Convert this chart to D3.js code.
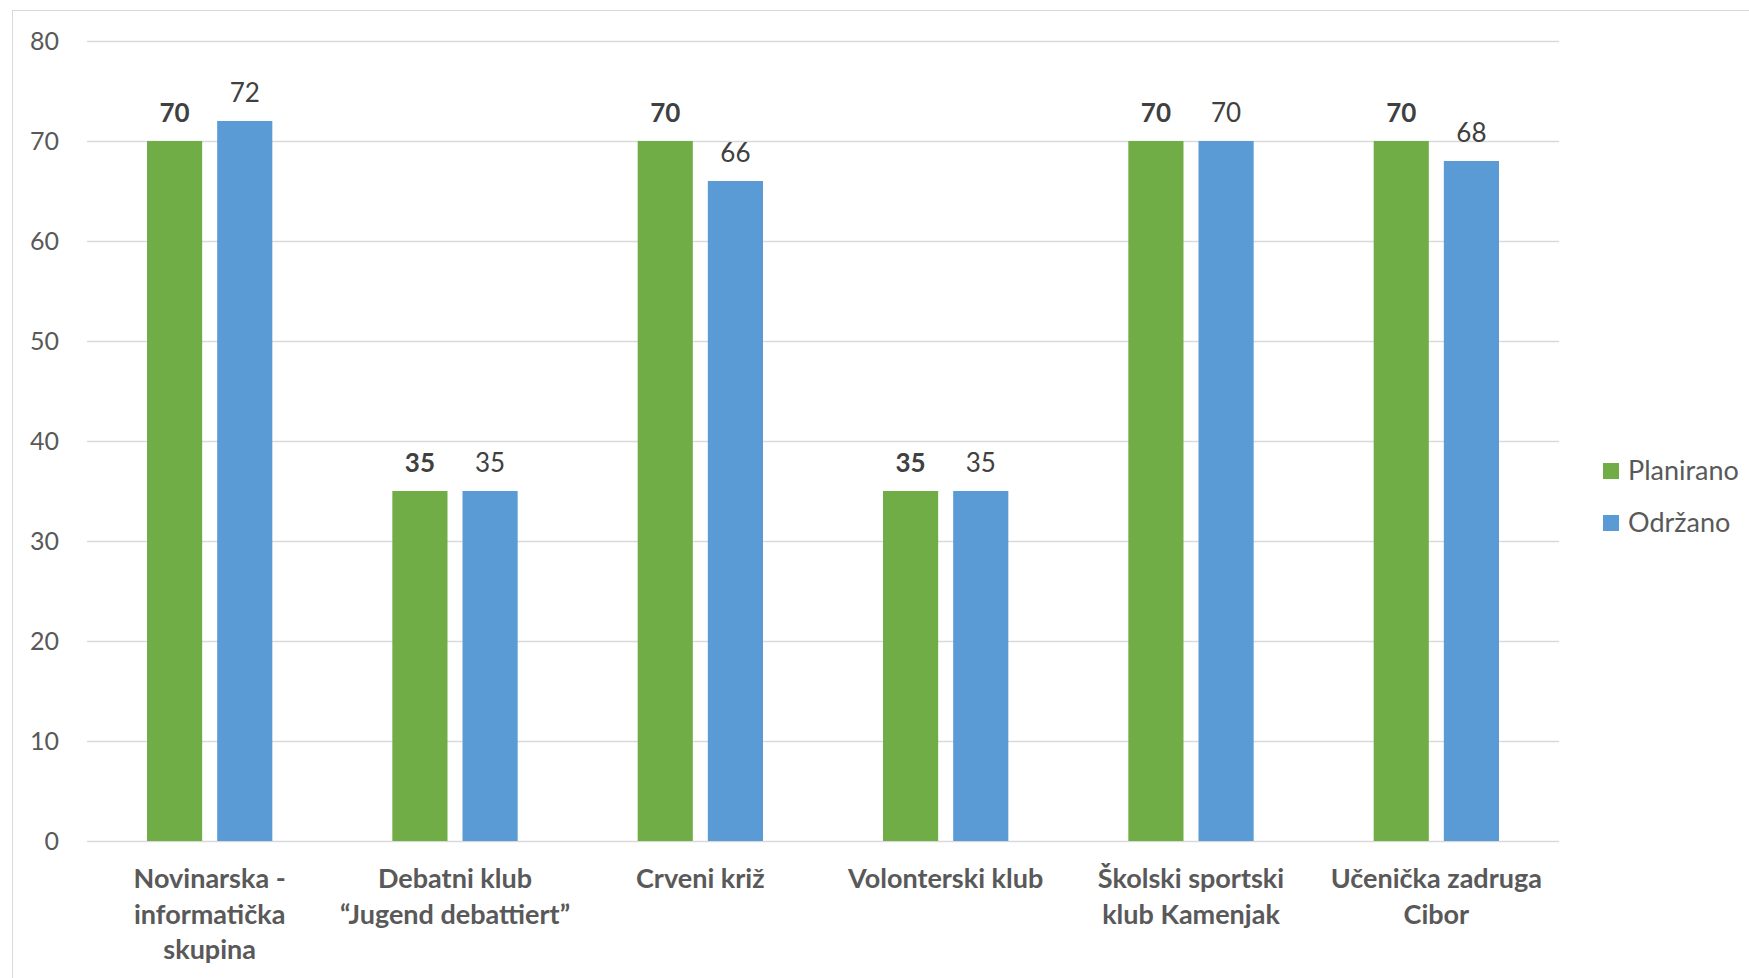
<!DOCTYPE html>
<meta charset="utf-8">
<style>
body { margin: 0; background: #fff; }
svg text { font-family: "Lato", "Open Sans", sans-serif; }
</style>
<body>
<script src="https://cdnjs.cloudflare.com/ajax/libs/d3/7.8.5/d3.min.js"></script>
<script>

const categories = [
   ["Novinarska -", "informatička", "skupina"],
   ["Debatni klub", "“Jugend debattiert”"],
   ["Crveni križ"],
   ["Volonterski klub"],
   ["Školski sportski", "klub Kamenjak"],
   ["Učenička zadruga", "Cibor"]
];
const seriesNames = ["Planirano", "Održano"];
const planirano = [70, 35, 70, 35, 70, 70];
const odrzano = [72, 35, 66, 35, 70, 68];
const yTicks = [0, 10, 20, 30, 40, 50, 60, 70, 80];

const colors = ["#70ad47", "#5b9bd5"];

const W = 1749, H = 978;
const plot = { left: 87, right: 1559, top: 41, bottom: 841 };

const svg = d3.select("body").append("svg")
   .attr("width", W)
   .attr("height", H);

//outer chart border, runs past the window on the right and bottom
svg.append("rect")
   .attr("x", 12.5).attr("y", 10.5)
   .attr("width", W).attr("height", H)
   .attr("fill", "none")
   .attr("stroke", "#d9d9d9")
   .attr("stroke-width", 1);

const catIdx = d3.range(categories.length);

const x0 = d3.scaleBand()
   .domain(catIdx)
   .range([plot.left, plot.right]);

const x1 = d3.scaleBand()
   .domain([0, 1])
   .range([60, x0.bandwidth() - 60])
   .paddingInner(0.214);

const y = d3.scaleLinear()
   .domain([0, 80])
   .range([plot.bottom, plot.top]);

//gridlines + y labels
const yAxis = d3.axisLeft(y)
   .tickValues(yTicks)
   .tickSize(-(plot.right - plot.left))
   .tickPadding(28);

svg.append("g")
   .attr("transform", `translate(${plot.left},0)`)
   .call(yAxis)
   .call(g => g.select(".domain").remove())
   .call(g => g.selectAll(".tick line").attr("stroke", "#d9d9d9").attr("stroke-width", 1.5))
   .call(g => g.selectAll(".tick text")
      .attr("fill", "#595959")
      .style("font-size", "25px")
      .style("font-family", "Lato, sans-serif"));

const rows = catIdx.map(i => [planirano[i], odrzano[i]]);

const groups = svg.append("g")
   .selectAll("g")
   .data(rows)
   .join("g")
   .attr("transform", (d, i) => `translate(${x0(i)},0)`);

groups.selectAll("rect")
   .data(d => d.map((v, s) => ({ v, s })))
   .join("rect")
   .attr("x", d => x1(d.s))
   .attr("width", x1.bandwidth())
   .attr("y", d => y(d.v))
   .attr("height", d => y(0) - y(d.v))
   .attr("fill", d => colors[d.s]);

//value labels, planned in bold
groups.selectAll("text.val")
   .data(d => d.map((v, s) => ({ v, s })))
   .join("text")
   .attr("class", "val")
   .attr("x", d => x1(d.s) + x1.bandwidth() / 2)
   .attr("y", d => y(d.v) - 19)
   .attr("text-anchor", "middle")
   .attr("fill", "#404040")
   .style("font-size", "26px")
   .style("font-weight", d => d.s === 0 ? "bold" : "normal")
   .text(d => d.v);

//category labels
const catLabels = svg.append("g")
   .selectAll("text")
   .data(categories)
   .join("text")
   .attr("x", (d, i) => x0(i) + x0.bandwidth() / 2)
   .attr("y", 888)
   .attr("text-anchor", "middle")
   .attr("fill", "#595959")
   .style("font-size", "27px")
   .style("font-weight", "bold");

catLabels.selectAll("tspan")
   .data(d => d)
   .join("tspan")
   .attr("x", function() { return d3.select(this.parentNode).attr("x"); })
   .attr("dy", (d, i) => i === 0 ? 0 : 35.5)
   .text(d => d);

//legend
const legend = svg.append("g")
   .selectAll("g")
   .data(seriesNames)
   .join("g")
   .attr("transform", (d, i) => `translate(1603,${471 + i * 52})`);

legend.append("rect")
   .attr("x", 0).attr("y", -8)
   .attr("width", 16).attr("height", 16)
   .attr("fill", (d, i) => colors[i]);

legend.append("text")
   .attr("x", 25)
   .attr("y", 0)
   .attr("dy", "0.35em")
   .attr("fill", "#595959")
   .style("font-size", "27px")
   .text(d => d);

</script>
</body>
</html>
